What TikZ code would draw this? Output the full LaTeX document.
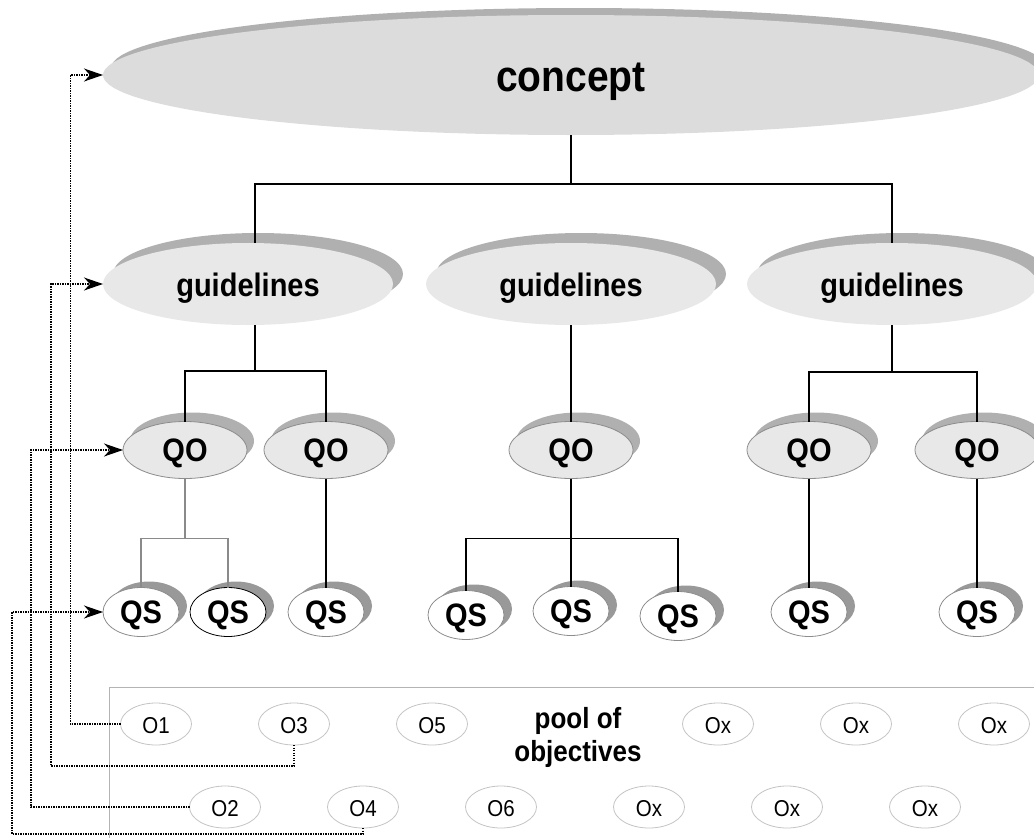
\documentclass[tikz,border=0pt]{standalone}
\usepackage{fontspec}
\setmainfont{Liberation Sans}
\usetikzlibrary{shapes.geometric,shadows,arrows.meta,calc}
\definecolor{conceptfill}{HTML}{DCDCDC}
\definecolor{lightfill}{HTML}{E8E8E8}
\definecolor{shadowA}{HTML}{B0B0B0}
\definecolor{shadowB}{HTML}{999999}
\definecolor{borderA}{HTML}{8C8C8C}
\definecolor{borderO}{HTML}{C4C4C4}
\definecolor{poolline}{HTML}{B4B4B4}
\definecolor{greyconn}{HTML}{8A8A8A}
\newcommand{\vstr}[1]{\scalebox{1}[1.12]{#1}}
\begin{document}
\begin{tikzpicture}[x=1pt,y=-1pt,
  every node/.style={inner sep=0pt,outer sep=0pt},
  conceptnode/.style={ellipse,fill=conceptfill,minimum width=936pt,minimum height=120pt,
    font=\fontsize{39}{39}\selectfont\bfseries,text height=32pt,text depth=0pt,
    general shadow={fill=shadowA,shadow xshift=8pt,shadow yshift=7pt}},
  guidenode/.style={ellipse,fill=lightfill,minimum width=290pt,minimum height=82pt,
    font=\fontsize{29}{29}\selectfont\bfseries,text height=24pt,text depth=0pt,
    general shadow={fill=shadowA,shadow xshift=10pt,shadow yshift=10pt}},
  qonode/.style={ellipse,fill=lightfill,draw=borderA,line width=0.8pt,minimum width=124pt,minimum height=57pt,
    font=\fontsize{29}{29}\selectfont\bfseries,text height=22pt,text depth=0pt,
    general shadow={fill=shadowA,shadow xshift=7pt,shadow yshift=9pt}},
  qsnode/.style={ellipse,fill=white,draw=borderA,line width=0.8pt,minimum width=76pt,minimum height=49pt,
    font=\fontsize{29}{29}\selectfont\bfseries,text height=22pt,text depth=0pt,
    general shadow={fill=shadowB,shadow xshift=8pt,shadow yshift=6pt}},
  objnode/.style={ellipse,fill=white,draw=borderO,line width=0.8pt,minimum width=71pt,minimum height=42pt,
    font=\fontsize{20.5}{20.5}\selectfont,text height=18pt,text depth=0pt},
  conn/.style={line width=1.1pt,black},
  gconn/.style={line width=1.1pt,greyconn},
  link/.style={line width=1.2pt,dash pattern=on 1.2pt off 1.3pt,-{Stealth[length=19pt,width=13pt,inset=6pt]}}
]
\path[use as bounding box] (0,0) rectangle (1034,838);
\clip (0,0) rectangle (1034,838);

% pool box
\draw[poolline,line width=1pt] (109,687) rectangle (1070,870);

% nodes
\node[conceptnode] (c) at (571,75) {\vstr{concept}};
\node[guidenode] (g1) at (248,284) {\vstr{guidelines}};
\node[guidenode] (g2) at (571,284) {\vstr{guidelines}};
\node[guidenode] (g3) at (892,284) {\vstr{guidelines}};

\node[qonode] (q1) at (185,450) {\vstr{QO}};
\node[qonode] (q2) at (326,450) {\vstr{QO}};
\node[qonode] (q3) at (571,450) {\vstr{QO}};
\node[qonode] (q4) at (809,450) {\vstr{QO}};
\node[qonode] (q5) at (977,450) {\vstr{QO}};

\node[qsnode] (s1) at (141,612) {\vstr{QS}};
\node[qsnode,draw=black] (s2) at (228,612) {\vstr{QS}};
\node[qsnode] (s3) at (326,612) {\vstr{QS}};
\node[qsnode] (s4) at (466,615) {\vstr{QS}};
\node[qsnode] (s5) at (571,611) {\vstr{QS}};
\node[qsnode] (s6) at (678,616) {\vstr{QS}};
\node[qsnode] (s7) at (809,612) {\vstr{QS}};
\node[qsnode] (s8) at (977,612) {\vstr{QS}};

\node[objnode] (o1) at (156,724) {\vstr{O1}};
\node[objnode] (o3) at (294,724) {\vstr{O3}};
\node[objnode] (o5) at (432,724) {\vstr{O5}};
\node[objnode] (ox1) at (718,724) {\vstr{Ox}};
\node[objnode] (ox2) at (856,724) {\vstr{Ox}};
\node[objnode] (ox3) at (994,724) {\vstr{Ox}};
\node[objnode] (o2) at (225,807) {\vstr{O2}};
\node[objnode] (o4) at (363,807) {\vstr{O4}};
\node[objnode] (o6) at (501,807) {\vstr{O6}};
\node[objnode] (ox4) at (649,807) {\vstr{Ox}};
\node[objnode] (ox5) at (787,807) {\vstr{Ox}};
\node[objnode] (ox6) at (925,807) {\vstr{Ox}};

\node[font=\fontsize{26}{29.5}\selectfont\bfseries] (pool) at (578,738)
  {\vstr{\begin{tabular}{@{}c@{}}pool of\\objectives\end{tabular}}};

% tree connectors
\draw[conn] (c.south) -- ++(0,49) coordinate (cj);
\draw[conn] ([xshift=7pt]g1.north) |- (cj) -| (g3.north);
\draw[conn] ([xshift=7pt]g1.south) -- ++(0,46) coordinate (gj1);
\draw[conn] (q1.north) |- (gj1) -| (q2.north);
\draw[conn] (g2.south) -- (q3.north);
\draw[conn] (g3.south) -- ++(0,47) coordinate (gj3);
\draw[conn] (q4.north) |- (gj3) -| (q5.north);

\draw[gconn] (q1.south) -- ++(0,60) coordinate (qj1);
\draw[gconn] (s1.north) |- (qj1) -| (s2.north);
\draw[conn] (q2.south) -- (s3.north);
\draw[conn] (q3.south) -- ++(0,60) coordinate (qj3);
\draw[conn] (qj3) -- (s5.north);
\draw[conn] (s4.north) |- (qj3) -| (s6.north);
\draw[conn] (q4.south) -- (s7.north);
\draw[conn] (q5.south) -- (s8.north);

% dotted links
\draw[link] (o1.west) -- ++(-50,0) |- (c.west);
\draw[link] (o3.south) -- ++(0,21) -| ($(g1.west)+(-52,0)$) -- (g1.west);
\draw[link] (o2.west) -- ++(-158.5,0) |- (q1.west);
\draw[link] (o4.south) -- ++(0,6) -| ($(s1.west)+(-91,0)$) -- (s1.west);
\end{tikzpicture}
\end{document}
